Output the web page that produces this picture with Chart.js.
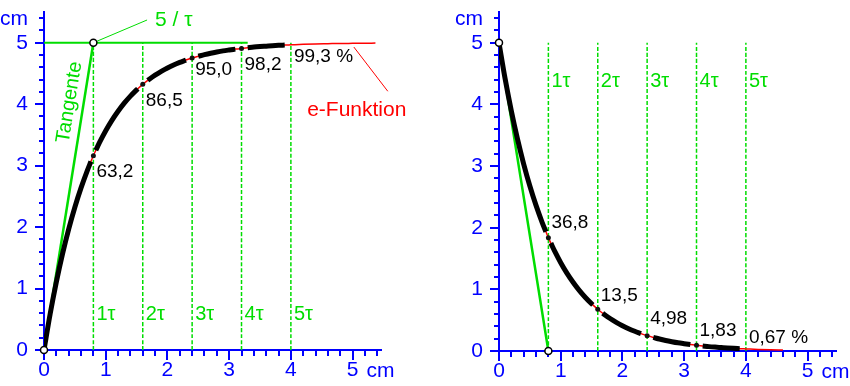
<!DOCTYPE html>
<html>
<head>
<meta charset="utf-8">
<script src="https://cdn.jsdelivr.net/npm/chart.js@4/dist/chart.umd.min.js"></script>
<style>
  body { margin: 0; background: #fff; }
  canvas { position: absolute; top: 0; }
  #left { left: 0; }
  #right { left: 440px; }
</style>
</head>
<body>
<canvas id="left" width="440" height="386"></canvas>
<canvas id="right" width="410" height="386"></canvas>
<script>
// values (cm)
const chargeX = [0, 0.1, 0.2, 0.3, 0.4, 0.5, 0.6, 0.7, 0.76, 0.8, 0.84, 0.9, 1.0, 1.1, 1.2, 1.3, 1.4, 1.5, 1.52, 1.6, 1.68,
  1.7, 1.8, 1.9, 2.0, 2.1, 2.2, 2.3, 2.4, 2.5, 2.6, 2.7, 2.8, 2.9, 3.0, 3.1, 3.2, 3.3, 3.4, 3.5, 3.6, 3.7, 3.8, 3.9, 4.0,
  4.2, 4.4, 4.6, 4.8, 5.0, 5.2, 5.37];
const chargeY = [0, 0.588, 1.106, 1.564, 1.967, 2.324, 2.638, 2.916, 3.067, 3.161, 3.250, 3.377, 3.567, 3.736, 3.884,
  4.016, 4.131, 4.233, 4.252, 4.323, 4.388, 4.403, 4.473, 4.535, 4.590, 4.638, 4.680, 4.718, 4.751, 4.780, 4.806, 4.829,
  4.849, 4.867, 4.882, 4.896, 4.908, 4.919, 4.929, 4.937, 4.944, 4.951, 4.957, 4.962, 4.966, 4.974, 4.980, 4.984, 4.988,
  4.990, 4.992, 4.994];
const dischargeX = chargeX.slice(0, 48);
const dischargeY = [5.000, 4.412, 3.894, 3.437, 3.033, 2.676, 2.362, 2.084, 1.934, 1.839, 1.750, 1.623, 1.433, 1.264,
  1.116, 0.984, 0.869, 0.767, 0.748, 0.677, 0.612, 0.597, 0.527, 0.465, 0.410, 0.362, 0.320, 0.282, 0.249, 0.220, 0.194,
  0.171, 0.151, 0.133, 0.118, 0.104, 0.092, 0.081, 0.071, 0.063, 0.056, 0.049, 0.043, 0.038, 0.034, 0.026, 0.020, 0.016];
const blackEnd = 3.9;

const tauX = [0.8, 1.6, 2.4, 3.2, 4.0];
const tauLabels = ['1τ', '2τ', '3τ', '4τ', '5τ'];
const chargeLabels = ['63,2', '86,5', '95,0', '98,2', '99,3 %'];
const dischargeLabels = ['36,8', '13,5', '4,98', '1,83', '0,67 %'];
const dashTop = 5;
const tauLabelY = [0.57, 4.37]; // left, right

const tangentX = [0, 0.8];
const chargeTangentY = [0, 5];
const dischargeTangentY = [5, 0];
const topLineX = [0, 3.3];
const topLineY = [5, 5];
const slopeLeaderX = [0.8, 1.67];
const slopeLeaderY = [5, 5.37];
const expLeaderX = [5.02, 5.57];
const expLeaderY = [4.93, 4.21];

const BLUE = '#0000ff', GREEN = '#00dd00', RED = '#ff0000', BLACK = '#000000';
const FONT = '"Liberation Sans", Arial, sans-serif';

function pts(xs, ys) { return xs.map((x, i) => ({ x, y: ys[i] })); }
function near(a, b) { return Math.abs(a - b) < 1e-9; }
function valueAt(xs, ys, x) { return ys[xs.findIndex(v => near(v, x))]; }
function blackPart(xs, ys) {
  return xs.map((x, i) => ({ x, y: tauX.slice(0, 4).some(t => near(t, x)) ? null : ys[i] }))
    .filter(p => p.x <= blackEnd + 1e-9);
}
function dashed() {
  const out = [];
  tauX.forEach(t => { out.push({ x: t, y: 0 }, { x: t, y: dashTop }, { x: t, y: null }); });
  return out;
}
function lineSet(data, color, width, order, extra) {
  return Object.assign({ data, borderColor: color, borderWidth: width, pointRadius: 0, order, spanGaps: false }, extra || {});
}

const decor = {
  id: 'decor',
  beforeDatasetsDraw(chart) {
    const { ctx, chartArea: a, scales: { x, y } } = chart;
    ctx.save();
    ctx.strokeStyle = BLUE;
    ctx.lineWidth = 2;
    for (let i = 0; i * 0.2 <= x.max + 1e-9; i++) {
      const px = Math.round(x.getPixelForValue(i * 0.2));
      const len = i % 5 === 0 ? 10 : 6;
      ctx.beginPath(); ctx.moveTo(px, a.bottom - 1); ctx.lineTo(px, a.bottom + len); ctx.stroke();
    }
    for (let i = 0; i * 0.2 <= y.max + 1e-9; i++) {
      const py = Math.round(y.getPixelForValue(i * 0.2));
      const len = i % 5 === 0 ? 9 : 5;
      ctx.beginPath(); ctx.moveTo(a.left + 1, py); ctx.lineTo(a.left - len, py); ctx.stroke();
    }
    ctx.restore();
  },
  afterDatasetsDraw(chart, args, opts) {
    const { ctx, chartArea: a, scales: { x, y } } = chart;
    ctx.save();
    ctx.fillStyle = BLUE;
    ctx.font = '21px ' + FONT;
    ctx.textBaseline = 'middle';
    ctx.textAlign = 'left';
    ctx.fillText('cm', x.getPixelForValue(5) + 14, a.bottom + 21);
    ctx.textBaseline = 'alphabetic';
    ctx.textAlign = 'right';
    ctx.fillText('cm', a.left - 16, a.top + 13);
    (opts.texts || []).forEach(t => {
      ctx.save();
      ctx.fillStyle = t.color;
      ctx.font = t.size + 'px ' + FONT;
      ctx.textAlign = t.align || 'left';
      ctx.textBaseline = 'middle';
      ctx.translate(x.getPixelForValue(t.x) + (t.dx || 0), y.getPixelForValue(t.y) + (t.dy || 0));
      if (t.rot) ctx.rotate(t.rot(x, y));
      ctx.fillText(t.text, 0, 0);
      ctx.restore();
    });
    ctx.restore();
  }
};

function makeChart(id, yw, xh, padRight, datasets, texts) {
  return new Chart(document.getElementById(id), {
    type: 'line',
    data: { datasets },
    plugins: [decor],
    options: {
      responsive: false,
      devicePixelRatio: 1,
      animation: false,
      events: [],
      layout: { padding: { top: 12, right: padRight, bottom: 0, left: 0 } },
      elements: { line: { cubicInterpolationMode: 'monotone', borderCapStyle: 'butt' } },
      plugins: { legend: { display: false }, tooltip: { enabled: false }, decor: { texts } },
      scales: {
        x: {
          type: 'linear', min: 0, max: 5.46,
          afterFit: s => { s.height = xh; s.paddingLeft = 0; s.paddingRight = 0; },
          ticks: { stepSize: 1, includeBounds: false, color: BLUE, font: { family: FONT, size: 21 }, padding: 8, maxRotation: 0, autoSkip: false },
          grid: { display: false, drawTicks: false },
          border: { color: BLUE, width: 2 }
        },
        y: {
          type: 'linear', min: 0, max: 5.5,
          afterFit: s => { s.width = yw; s.paddingTop = 0; s.paddingBottom = 0; },
          ticks: { stepSize: 1, includeBounds: false, color: BLUE, font: { family: FONT, size: 21 }, padding: 16 },
          grid: { display: false, drawTicks: false },
          border: { color: BLUE, width: 2 }
        }
      }
    }
  });
}

function tangentAngle(ys) {
  return (x, y) => Math.atan2(y.getPixelForValue(ys[1]) - y.getPixelForValue(ys[0]),
    x.getPixelForValue(tangentX[1]) - x.getPixelForValue(tangentX[0]));
}

// left: charging
const leftTexts = [];
tauX.forEach((t, i) => {
  leftTexts.push({ text: tauLabels[i], x: t, y: tauLabelY[0], dx: 3, color: GREEN, size: 20 });
  leftTexts.push({ text: chargeLabels[i], x: t, y: valueAt(chargeX, chargeY, t), dx: 3, dy: [16, 16, 12, 16, 12][i], color: BLACK, size: 19 });
});
leftTexts.push({ text: '5 / τ', x: slopeLeaderX[1], y: slopeLeaderY[1], dx: 8, color: GREEN, size: 21 });
leftTexts.push({ text: 'e-Funktion', x: expLeaderX[1], y: expLeaderY[1], dx: -31, dy: 19, align: 'center', color: RED, size: 21 });
leftTexts.push({ text: 'Tangente', x: 0.64, y: 4.0, dx: -14, dy: -2, align: 'center', color: GREEN, size: 20, rot: tangentAngle(chargeTangentY) });

makeChart('left', 44, 36, 59, [
  { data: pts([0, 0.8], [0, 5]), showLine: false, pointRadius: 3.5, pointBackgroundColor: '#fff', pointBorderColor: BLACK, pointBorderWidth: 1.5, order: 0, clip: false },
  { data: tauX.slice(0, 4).map(t => ({ x: t, y: valueAt(chargeX, chargeY, t) })), showLine: false, pointRadius: 2.5, pointBackgroundColor: '#111', pointBorderWidth: 0, order: 1, clip: false },
  lineSet(blackPart(chargeX, chargeY), BLACK, 5, 2),
  lineSet(pts(chargeX, chargeY), RED, 1.5, 3),
  lineSet(pts(tangentX, chargeTangentY), GREEN, 2.5, 4),
  lineSet(pts(topLineX, topLineY), GREEN, 2, 4),
  lineSet(pts(slopeLeaderX, slopeLeaderY), GREEN, 1, 4, { clip: false }),
  lineSet(pts(expLeaderX, expLeaderY), RED, 1, 4, { clip: false }),
  lineSet(dashed(), GREEN, 1.5, 5, { borderDash: [4, 2] })
], leftTexts);

// right: discharging
const rightTexts = [];
tauX.forEach((t, i) => {
  rightTexts.push({ text: tauLabels[i], x: t, y: tauLabelY[1], dx: 3, color: GREEN, size: 20 });
  rightTexts.push({ text: dischargeLabels[i], x: t, y: valueAt(dischargeX, dischargeY, t), dx: 3, dy: [-15, -14, -17, -15, -11][i], color: BLACK, size: 19 });
});

makeChart('right', 59, 35, 14, [
  { data: pts([0, 0.8], [5, 0]), showLine: false, pointRadius: 3.5, pointBackgroundColor: '#fff', pointBorderColor: BLACK, pointBorderWidth: 1.5, order: 0, clip: false },
  { data: tauX.slice(0, 4).map(t => ({ x: t, y: valueAt(dischargeX, dischargeY, t) })), showLine: false, pointRadius: 2.5, pointBackgroundColor: '#111', pointBorderWidth: 0, order: 1, clip: false },
  lineSet(blackPart(dischargeX, dischargeY), BLACK, 5, 2),
  lineSet(pts(dischargeX, dischargeY), RED, 1.5, 3),
  lineSet(pts(tangentX, dischargeTangentY), GREEN, 2.5, 4),
  lineSet(dashed(), GREEN, 1.5, 5, { borderDash: [4, 2] })
], rightTexts);
</script>
</body>
</html>
